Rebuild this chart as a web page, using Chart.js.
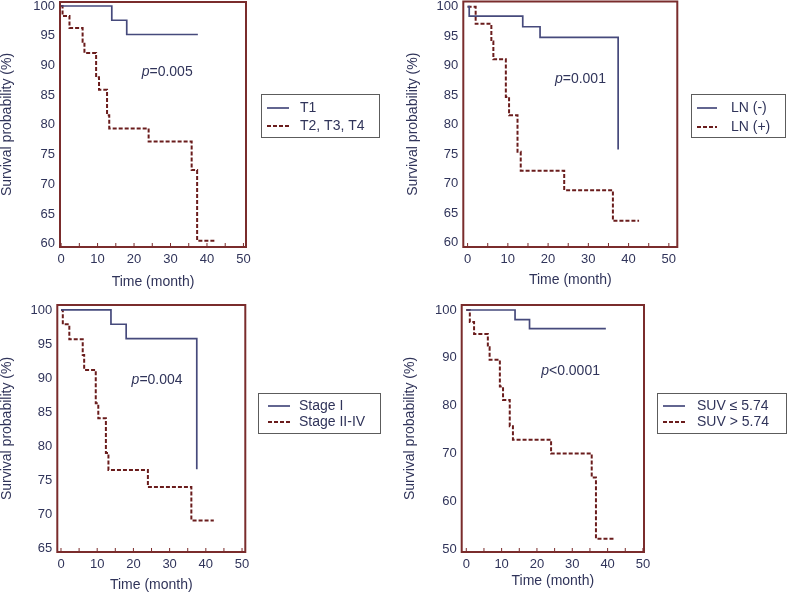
<!DOCTYPE html>
<html>
<head>
<meta charset="utf-8">
<script src="https://cdn.jsdelivr.net/npm/chart.js@4.4.1/dist/chart.umd.min.js"></script>
<style>
  body { margin: 0; background: #fff; }
  #wrap { position: relative; width: 787px; height: 593px; }
  canvas { position: absolute; }
</style>
</head>
<body>
<div id="wrap">
  <canvas id="c1" width="390" height="290" style="left:0;top:0"></canvas>
  <canvas id="c2" width="397" height="290" style="left:390px;top:0"></canvas>
  <canvas id="c3" width="390" height="303" style="left:0;top:290px"></canvas>
  <canvas id="c4" width="397" height="303" style="left:390px;top:290px"></canvas>
</div>
<script>
// Kaplan-Meier curves, time (month) and survival (%)
const tStageSolidT = [0, 13.9, 18, 37.5];
const tStageSolidS = [100, 97.6, 95.2, 95.2];
const tStageDashT = [0, 0.4, 2.3, 5.9, 6.4, 9.6, 10.4, 12.6, 13.2, 24.0, 35.8, 37.3, 42.2];
const tStageDashS = [100, 98.3, 96.3, 94.0, 92.1, 88.0, 85.9, 81.6, 79.4, 77.2, 72.4, 60.5, 60.5];

const lnSolidT = [0, 0.4, 13.7, 18, 37.4];
const lnSolidS = [100, 98.4, 96.6, 94.8, 75.8];
const lnDashT = [0, 2.0, 5.9, 6.4, 9.5, 10.3, 12.4, 13.2, 24.0, 36.1, 42.6];
const lnDashS = [100, 97.1, 94.1, 91.1, 84.7, 81.6, 75.4, 72.2, 68.9, 63.7, 63.7];

const stageSolidT = [0, 13.8, 18, 37.5];
const stageSolidS = [100, 97.9, 95.8, 76.6];
const stageDashT = [0, 0.5, 2.3, 6.0, 6.4, 9.6, 10.3, 12.4, 13.1, 24.0, 36.0, 42.2];
const stageDashS = [100, 97.9, 95.7, 93.4, 91.2, 86.3, 84.1, 79.0, 76.5, 74.0, 69.1, 69.1];

const suvSolidT = [0, 13.8, 17.9, 39.5];
const suvSolidS = [100, 98.0, 96.1, 96.1];
const suvDashT = [0, 1.0, 2.2, 6.1, 6.6, 9.5, 10.4, 12.3, 13.2, 24.0, 35.5, 36.7, 41.8];
const suvDashS = [100, 97.5, 95.0, 92.2, 89.6, 84.0, 81.2, 75.7, 72.9, 70.0, 65.0, 52.2, 52.2];

const xTicks = [0, 10, 20, 30, 40, 50];
const xMinorTicks = [0, 5, 10, 15, 20, 25, 30, 35, 40, 45, 50];
const yTicks60 = [60, 65, 70, 75, 80, 85, 90, 95, 100];
const yTicks65 = [65, 70, 75, 80, 85, 90, 95, 100];
const yTicks50 = [50, 60, 70, 80, 90, 100];

const legendLabels = [
  ['T1', 'T2, T3, T4'],
  ['LN (-)', 'LN (+)'],
  ['Stage I', 'Stage II-IV'],
  ['SUV \u2264 5.74', 'SUV > 5.74']
];
const pLabels = ['p=0.005', 'p=0.001', 'p=0.004', 'p<0.0001'];

const SOLID = '#464a7c';
const DASHED = '#6a1c1c';
const FRAME = '#7a2c2c';
const TEXT = '#30345a';
const FONT = '"Liberation Sans", Arial, sans-serif';
Chart.defaults.font.family = FONT;

const framePlugin = {
  id: 'frame',
  afterDatasetsDraw(chart) {
    const {ctx, chartArea: a, scales: {x}} = chart;
    ctx.save();
    ctx.strokeStyle = FRAME;
    ctx.lineWidth = 1;
    xMinorTicks.forEach(v => {
      const px = x.getPixelForValue(v);
      ctx.beginPath();
      ctx.moveTo(px, a.bottom);
      ctx.lineTo(px, a.bottom - 4);
      ctx.stroke();
    });
    ctx.lineWidth = 2;
    ctx.strokeRect(a.left, a.top, a.right - a.left, a.bottom - a.top);
    ctx.restore();
  }
};

const notePlugin = {
  id: 'pNote',
  afterDatasetsDraw(chart, args, o) {
    const {ctx, scales: {x, y}} = chart;
    let px = x.getPixelForValue(o.x);
    const py = y.getPixelForValue(o.y);
    ctx.save();
    ctx.fillStyle = TEXT;
    ctx.textBaseline = 'middle';
    ctx.font = 'italic 14px ' + FONT;
    ctx.fillText(o.text[0], px, py);
    px += ctx.measureText(o.text[0]).width;
    ctx.font = '14px ' + FONT;
    ctx.fillText(o.text.slice(1), px, py);
    ctx.restore();
  }
};

const legendPlugin = {
  id: 'boxLegend',
  afterDraw(chart, args, o) {
    const {ctx} = chart;
    ctx.save();
    ctx.strokeStyle = '#5c5c5c';
    ctx.lineWidth = 1;
    ctx.strokeRect(o.x + 0.5, o.y + 0.5, o.w, o.h);
    chart.data.datasets.forEach((ds, i) => {
      const y = o.rows[i];
      ctx.strokeStyle = ds.borderColor;
      ctx.lineWidth = ds.borderWidth;
      ctx.setLineDash(ds.borderDash || []);
      ctx.beginPath();
      ctx.moveTo(o.line[0], y);
      ctx.lineTo(o.line[1], y);
      ctx.stroke();
      ctx.setLineDash([]);
      ctx.fillStyle = TEXT;
      ctx.font = '14px ' + FONT;
      ctx.textBaseline = 'middle';
      ctx.fillText(ds.label, o.textX, y);
    });
    ctx.restore();
  }
};

function points(t, s) {
  return t.map((v, i) => ({x: v, y: s[i]}));
}

function makeChart(id, p) {
  const canvas = document.getElementById(id);
  const W = canvas.width, H = canvas.height;
  return new Chart(canvas, {
    type: 'line',
    data: {
      datasets: [
        { label: p.labels[0], data: points(p.solid[0], p.solid[1]), borderColor: SOLID,
          borderWidth: 1.7, stepped: 'before', pointRadius: 0, fill: false },
        { label: p.labels[1], data: points(p.dash[0], p.dash[1]), borderColor: DASHED,
          borderWidth: 2, borderDash: [4, 2], stepped: 'before', pointRadius: 0, fill: false }
      ]
    },
    plugins: [framePlugin, notePlugin, legendPlugin],
    options: {
      responsive: false,
      animation: false,
      layout: { padding: { left: 0, top: p.area.top, right: W - p.area.right, bottom: 0 } },
      plugins: {
        legend: { display: false },
        tooltip: { enabled: false },
        pNote: p.note,
        boxLegend: p.legend
      },
      scales: {
        x: {
          type: 'linear', min: p.x[0], max: p.x[1],
          afterBuildTicks: s => { s.ticks = xTicks.map(v => ({value: v})); },
          afterFit: s => { s.height = H - p.area.bottom; s.paddingLeft = 0; s.paddingRight = 0; },
          grid: { display: false, drawTicks: false },
          border: { display: false },
          ticks: { color: TEXT, font: { size: 13 }, padding: 5 },
          title: { display: true, text: 'Time (month)', color: TEXT,
                   font: { size: 14, lineHeight: 1 }, padding: { top: 0, bottom: p.xTitle } }
        },
        y: {
          type: 'linear', min: p.y[0], max: p.y[1],
          afterBuildTicks: s => { s.ticks = p.yTicks.map(v => ({value: v})); },
          afterFit: s => { s.width = p.area.left; s.paddingTop = 0; s.paddingBottom = 0; },
          grid: { display: false, drawTicks: false },
          border: { display: false },
          ticks: { color: TEXT, font: { size: 13 }, padding: 5 },
          title: { display: true, text: 'Survival probability (%)', color: TEXT,
                   font: { size: 14, lineHeight: 1 }, padding: { top: p.yTitle, bottom: 0 } }
        }
      }
    }
  });
}

makeChart('c1', {
  solid: [tStageSolidT, tStageSolidS], dash: [tStageDashT, tStageDashS], labels: legendLabels[0],
  area: { left: 60, right: 246, top: 2, bottom: 247 }, x: [-0.3, 50.7], y: [59.44, 100.67],
  yTicks: yTicks60, xTitle: 1, yTitle: 0,
  note: { text: pLabels[0], x: 22.1, y: 88.8 },
  legend: { x: 261, y: 94, w: 118, h: 43, rows: [108, 126], line: [267, 289], textX: 300 }
});

makeChart('c2', {
  solid: [lnSolidT, lnSolidS], dash: [lnDashT, lnDashS], labels: legendLabels[1],
  area: { left: 73.3, right: 287.3, top: 1.5, bottom: 247 }, x: [-1.07, 52.1], y: [59.27, 100.88],
  yTicks: yTicks60, xTitle: 3, yTitle: 15.7,
  note: { text: pLabels[1], x: 21.7, y: 87.75 },
  legend: { x: 301, y: 94, w: 94, h: 43, rows: [108, 127], line: [307, 327], textX: 341 }
});

makeChart('c3', {
  solid: [stageSolidT, stageSolidS], dash: [stageDashT, stageDashS], labels: legendLabels[2],
  area: { left: 57.3, right: 245.3, top: 15, bottom: 262 }, x: [-1.02, 50.9], y: [64.46, 100.73],
  yTicks: yTicks65, xTitle: 1, yTitle: 0,
  note: { text: pLabels[2], x: 19.5, y: 89.7 },
  legend: { x: 258, y: 103, w: 122, h: 40, rows: [116, 132], line: [268, 290], textX: 299 }
});

makeChart('c4', {
  solid: [suvSolidT, suvSolidS], dash: [suvDashT, suvDashS], labels: legendLabels[3],
  area: { left: 71.7, right: 254, top: 15, bottom: 262 }, x: [-1.3, 50.3], y: [49.44, 101.04],
  yTicks: yTicks50, xTitle: 5, yTitle: 13,
  note: { text: pLabels[3], x: 21.2, y: 87.25 },
  legend: { x: 267, y: 103, w: 129, h: 40, rows: [116, 132], line: [273, 295], textX: 307 }
});
</script>
</body>
</html>
